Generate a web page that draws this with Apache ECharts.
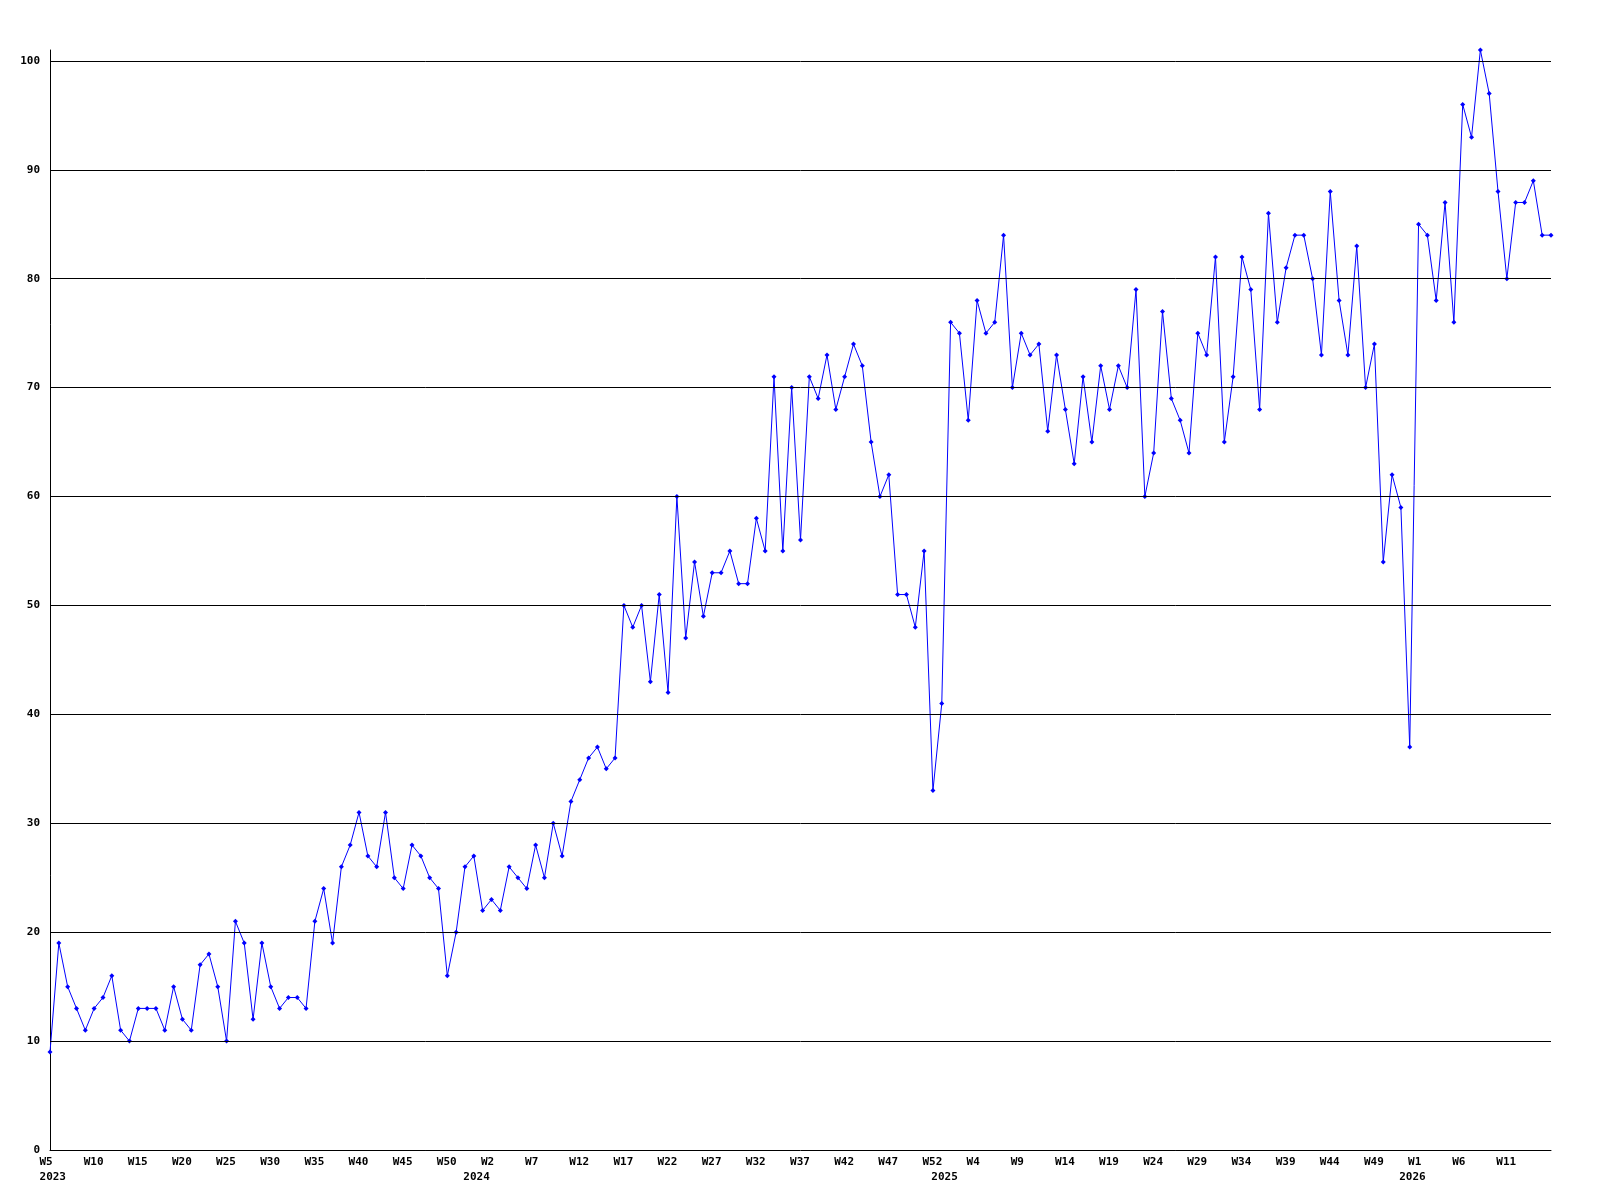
<!DOCTYPE html>
<html>
<head>
<meta charset="utf-8">
<script src="https://cdn.jsdelivr.net/npm/echarts@6/dist/echarts.min.js"></script>
<style>
html,body{margin:0;padding:0;background:#fff;}
#chart{width:1600px;height:1200px;}
</style>
</head>
<body>
<div id="chart"></div>
<script>
// Week ranges per year (categories)
const yearWeekRanges = [
  { year: 2023, from: 5, to: 52 },
  { year: 2024, from: 0, to: 52 },
  { year: 2025, from: 0, to: 52 },
  { year: 2026, from: 0, to: 16 }
];

// Series values (one per week)
const values2023 = [9,19,15,13,11,13,14,16,11,10,13,13,13,11,15,12,11,17,18,15,10,21,19,12,19,15,13,14,14,13,21,24,19,26,28,31,27,26,31,25,24,28,27,25,24,16,20,26];
const values2024 = [27,22,23,22,26,25,24,28,25,30,27,32,34,36,37,35,36,50,48,50,43,51,42,60,47,54,49,53,53,55,52,52,58,55,71,55,70,56,71,69,73,68,71,74,72,65,60,62,51,51,48,55,33];
const values2025 = [41,76,75,67,78,75,76,84,70,75,73,74,66,73,68,63,71,65,72,68,72,70,79,60,64,77,69,67,64,75,73,82,65,71,82,79,68,86,76,81,84,84,80,73,88,78,73,83,70,74,54,62,59];
const values2026 = [37,85,84,78,87,76,96,93,101,97,88,80,87,87,89,84,84];

// Y axis tick labels
const yTicks = [0,10,20,30,40,50,60,70,80,90,100];
const yMax = 101;

const categories = [];
const weekOf = [];
const yearOf = [];
yearWeekRanges.forEach(r => {
  for (let w = r.from; w <= r.to; w++) {
    categories.push(r.year + '-W' + w);
    weekOf.push(w);
    yearOf.push(r.year);
  }
});
const values = [].concat(values2023, values2024, values2025, values2026);

const FONT = 'DejaVu Sans Mono';
const baseText = { fontFamily: FONT, fontSize: 11, fontWeight: 'bold', color: '#000', lineHeight: 15 };

function isYearStart(i) { return i === 0 || yearOf[i - 1] !== yearOf[i]; }
function showWeek(i) { return i % 5 === 0 && i < categories.length - 1; }

const chart = echarts.init(document.getElementById('chart'), null, { renderer: 'canvas' });
chart.setOption({
  backgroundColor: '#ffffff',
  animation: false,
  grid: { left: 50, right: 49, top: 50, bottom: 50, containLabel: false, outerBoundsMode: 'none' },
  xAxis: {
    type: 'category',
    data: categories,
    boundaryGap: false,
    axisLine: { show: true, lineStyle: { color: '#000', width: 1 } },
    axisTick: { show: false },
    splitLine: { show: false },
    axisLabel: {
      margin: 5,
      align: 'center',
      verticalAlign: 'top',
      interval: function (i) { return showWeek(i) || isYearStart(i); },
      formatter: function (v, i) {
        let line1;
        if (showWeek(i)) {
          const t = 'W' + weekOf[i];
          line1 = '{w' + t.length + '|' + t + '}';
        } else {
          line1 = '{e| }';
        }
        if (isYearStart(i)) return line1 + '\n{y|' + yearOf[i] + '}';
        return line1;
      },
      rich: {
        w2: Object.assign({}, baseText, { padding: [0, 7.8, 0, 0] }),
        w3: Object.assign({}, baseText, { padding: [0, 1.1, 0, 0] }),
        w4: Object.assign({}, baseText),
        y: Object.assign({}, baseText, { padding: [0, 0, 0, 5.5] }),
        e: Object.assign({}, baseText)
      }
    }
  },
  yAxis: {
    type: 'value',
    min: 0,
    max: yMax,
    interval: 10,
    axisLine: { show: true, lineStyle: { color: '#000', width: 1 } },
    axisTick: { show: false },
    splitLine: { show: false },
    axisLabel: {
      margin: 10,
      showMaxLabel: false,
      fontFamily: FONT, fontSize: 11, fontWeight: 'bold', color: '#000',
      formatter: function (v) { return yTicks.indexOf(v) >= 0 ? String(v) : ''; }
    }
  },
  series: [
    {
      type: 'line',
      data: [],
      z: 1,
      silent: true,
      markLine: {
        silent: true,
        symbol: ['none', 'none'],
        label: { show: false },
        lineStyle: { color: '#000', width: 1, type: 'solid' },
        emphasis: { disabled: true },
        data: yTicks.filter(v => v > 0).map(v => ({ yAxis: v }))
      }
    },
    {
      type: 'line',
      data: values,
      z: 3,
      showSymbol: true,
      showAllSymbol: true,
      symbol: 'diamond',
      symbolSize: 5,
      lineStyle: { color: '#0000ff', width: 1 },
      itemStyle: { color: '#0000ff' },
      emphasis: { disabled: true }
    }
  ]
});
</script>
</body>
</html>
